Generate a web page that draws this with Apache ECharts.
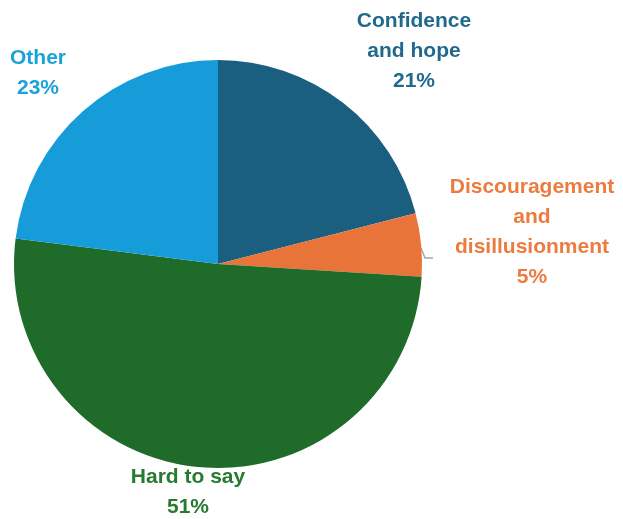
<!DOCTYPE html>
<html>
<head>
<meta charset="utf-8">
<script src="https://cdn.jsdelivr.net/npm/echarts@6/dist/echarts.min.js"></script>
<style>
  html, body { margin: 0; padding: 0; background: #ffffff; }
  #chart { width: 623px; height: 519px; }
</style>
</head>
<body>
<div id="chart"></div>
<script>
// Survey answers, in clockwise order from 12 o'clock
const categories = ['Confidence\nand hope', 'Discouragement\nand\ndisillusionment', 'Hard to say', 'Other'];
const shares = [21, 5, 51, 23];
const sliceColors = ['#1a5f80', '#e9743a', '#1e6b2a', '#169dd9'];
const labelColors = ['#1f6a8c', '#ec7b3f', '#277a2e', '#1ba1dc'];

// Where each slice's text block sits (centre x, top y)
const labelSpots = [
  { x: 414, y: 6 },
  { x: 532, y: 172 },
  { x: 188, y: 462 },
  { x: 38, y: 43 }
];

const chart = echarts.init(document.getElementById('chart'), null, { renderer: 'canvas' });

const data = categories.map((name, i) => ({
  name: name,
  value: shares[i],
  itemStyle: { color: sliceColors[i] },
  label: { color: labelColors[i] },
  labelLine: { show: i === 1 }
}));

chart.setOption({
  animation: false,
  backgroundColor: '#ffffff',
  series: [{
    type: 'pie',
    center: [218, 264],
    radius: 204,
    startAngle: 90,
    clockwise: true,
    data: data,
    itemStyle: { borderWidth: 0 },
    emphasis: { disabled: true },
    label: {
      show: true,
      position: 'outside',
      alignTo: 'none',
      overflow: 'none',
      formatter: p => p.name + '\n' + p.value + '%',
      fontFamily: 'Liberation Sans, Arial, sans-serif',
      fontWeight: 'bold',
      fontSize: 21,
      lineHeight: 30,
      align: 'center'
    },
    labelLine: {
      lineStyle: { color: '#a6a6a6', width: 1.5 }
    },
    labelLayout: function (params) {
      const s = labelSpots[params.dataIndex];
      const out = { x: s.x, y: s.y, align: 'center', verticalAlign: 'top', width: 300 };
      if (params.dataIndex === 1) {
        out.labelLinePoints = [[421, 248], [425, 258], [433, 258]];
      }
      return out;
    }
  }]
});
</script>
</body>
</html>
